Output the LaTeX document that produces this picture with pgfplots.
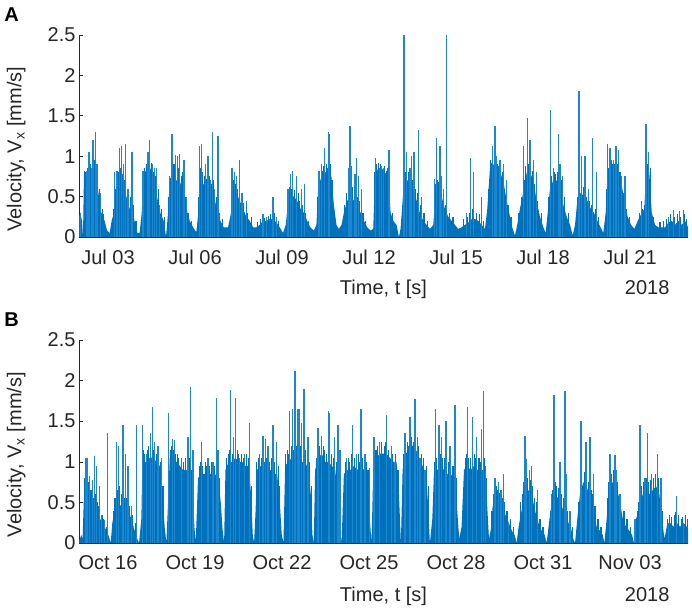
\documentclass[border=0pt]{standalone}
\usepackage{pgfplots}
\pgfplotsset{compat=1.18}
\usepackage{pgfplotstable}
\usepackage{fontspec}
\setmainfont{Liberation Sans}
\definecolor{mblue}{HTML}{0072BD}
\definecolor{sblue}{HTML}{1C86CE}
\definecolor{axgray}{HTML}{262626}
\newcommand\fs{\fontsize{20bp}{24bp}\selectfont}

\pgfplotstableread[row sep=\\]{h v\\
0 0.25\\ 1.1 0.3\\ 2.5 0.2\\ 3.3 0.0\\ 4.1 0.75\\ 6.1 0.78\\ 8.8 0.8\\ 11.6 0.8\\ 14.3 0.75\\ 16.5 0.5\\ 18.5 0.3\\ 21.2 0.2\\ 23.2 0.08\\
25.4 0.05\\ 27.0 0.2\\ 29.0 0.3\\ 30.9 0.55\\ 33.7 0.75\\ 36.4 0.65\\ 39.2 0.5\\ 41.9 0.35\\ 44.7 0.3\\ 46.6 0.15\\ 48.3 0.05\\
50.2 0.05\\ 51.9 0.3\\ 53.5 0.8\\ 56.3 0.82\\ 59.1 0.85\\ 61.8 0.7\\ 64.6 0.5\\ 67.3 0.3\\ 70.1 0.2\\ 72.0 0.0\\
73.7 0.3\\ 75.1 0.72\\ 77.8 0.75\\ 80.6 0.7\\ 83.3 0.7\\ 86.1 0.55\\ 88.9 0.35\\ 91.6 0.2\\ 94.4 0.12\\ 97.1 0.06\\
98.8 0.3\\ 100.5 0.7\\ 103.2 0.65\\ 106.0 0.6\\ 108.7 0.55\\ 111.5 0.5\\ 114.3 0.35\\ 117.0 0.2\\ 119.8 0.12\\ 123.4 0.12\\
125.8 0.3\\ 127.5 0.6\\ 130.3 0.55\\ 133.0 0.45\\ 135.8 0.35\\ 138.5 0.25\\ 141.3 0.2\\ 144.1 0.12\\
146.8 0.12\\ 149.6 0.15\\ 152.3 0.2\\ 155.1 0.2\\ 157.9 0.22\\ 160.6 0.22\\ 163.4 0.18\\ 166.1 0.12\\ 168.9 0.05\\
171.1 0.15\\ 172.8 0.4\\ 175.0 0.55\\ 177.7 0.5\\ 180.5 0.45\\ 183.3 0.35\\ 186.0 0.3\\ 188.8 0.2\\ 191.5 0.12\\ 194.3 0.08\\
196.5 0.15\\ 197.9 0.6\\ 200.6 0.75\\ 203.4 0.8\\ 206.2 0.8\\ 208.9 0.75\\ 210.9 0.4\\ 213.1 0.15\\ 215.0 0.1\\
217.3 0.15\\ 219.2 0.3\\ 222.0 0.45\\ 224.7 0.5\\ 227.5 0.45\\ 230.3 0.4\\ 233.0 0.3\\ 235.8 0.2\\ 238.5 0.12\\ 241.3 0.08\\
243.5 0.1\\ 244.9 0.75\\ 247.6 0.85\\ 250.4 0.85\\ 253.2 0.8\\ 255.9 0.75\\ 257.9 0.3\\ 260.1 0.2\\ 262.8 0.15\\ 264.8 0.0\\
266.1 0.1\\ 268.3 0.55\\ 271.1 0.7\\ 273.9 0.7\\ 276.6 0.6\\ 279.4 0.45\\ 282.1 0.3\\ 284.9 0.2\\ 287.7 0.15\\ 290.4 0.1\\
293.2 0.15\\ 294.6 0.45\\ 297.3 0.6\\ 300.1 0.5\\ 302.8 0.35\\ 305.6 0.25\\ 308.4 0.2\\ 311.1 0.15\\ 313.9 0.1\\
316.6 0.12\\ 319.4 0.15\\ 322.2 0.18\\ 324.9 0.22\\ 327.7 0.22\\ 330.5 0.2\\ 333.2 0.15\\ 336.0 0.1\\
337.9 0.35\\ 340.1 0.85\\ 342.9 0.9\\ 345.6 0.85\\ 348.4 0.8\\ 351.1 0.7\\ 353.9 0.45\\ 356.7 0.25\\ 358.9 0.1\\ 360.8 0.02\\
362.7 0.15\\ 364.9 0.35\\ 367.7 0.55\\ 370.5 0.8\\ 373.2 0.8\\ 376.0 0.7\\ 378.7 0.45\\ 381.5 0.25\\ 384.3 0.12\\ 386.2 0.05\\
387.9 0.3\\ 389.8 0.6\\ 392.5 0.7\\ 395.3 0.7\\ 398.1 0.65\\ 400.8 0.4\\ 403.6 0.25\\ 406.4 0.15\\ 408.6 0.02\\
410.5 0.15\\ 412.4 0.45\\ 415.2 0.55\\ 417.9 0.5\\ 420.7 0.45\\ 423.5 0.35\\ 426.2 0.3\\ 429.0 0.2\\ 431.7 0.12\\ 433.9 0.05\\
435.9 0.3\\ 437.5 0.75\\ 440.3 0.85\\ 443.1 0.8\\ 445.8 0.8\\ 448.6 0.7\\ 451.3 0.45\\ 454.1 0.25\\ 456.9 0.15\\ 459.6 0.1\\
462.4 0.2\\ 465.1 0.28\\ 467.9 0.35\\ 469.3 0.85\\ 472.0 0.8\\ 474.0 0.3\\ 476.7 0.15\\ 479.5 0.12\\ 482.2 0.12\\
485.0 0.12\\ 487.8 0.18\\ 490.5 0.2\\ 493.3 0.15\\ 496.1 0.2\\ 498.8 0.15\\ 501.6 0.2\\ 504.0 0.12\\
}\envA

\pgfplotstableread[row sep=\\]{h v\\
4.8 0.82\\ 5.5 0.8\\ 7.2 0.85\\ 9.5 0.9\\ 10.8 0.82\\ 12.4 0.95\\ 15.5 0.7\\ 16.8 0.6\\ 19.5 0.35\\ 20.5 0.28\\
28.2 0.35\\ 30.2 0.6\\ 32.5 0.8\\ 34.4 0.85\\ 36.0 0.78\\ 37.5 0.7\\ 39.8 0.6\\ 42.5 0.5\\ 45.2 0.4\\ 47.2 0.2\\
52.6 0.5\\ 54.5 0.85\\ 55.5 0.9\\ 56.8 0.88\\ 60.0 0.92\\ 61.2 0.8\\ 63.3 0.75\\ 65.5 0.6\\ 68.0 0.35\\ 70.8 0.25\\
74.3 0.5\\ 76.2 0.8\\ 78.6 0.9\\ 80.2 0.8\\ 82.3 0.85\\ 84.5 0.75\\ 85.6 0.8\\ 87.8 0.5\\ 90.2 0.3\\ 92.8 0.2\\
99.3 0.5\\ 100.8 0.85\\ 102.5 0.8\\ 104.0 0.75\\ 105.8 0.72\\ 108.0 0.75\\ 109.8 0.65\\ 111.2 0.7\\ 113.5 0.5\\ 116.0 0.3\\ 118.5 0.22\\
126.2 0.5\\ 127.8 0.7\\ 129.6 0.65\\ 131.5 0.6\\ 134.2 0.5\\ 136.5 0.42\\ 139.8 0.3\\ 142.5 0.25\\
148.0 0.18\\ 150.5 0.22\\ 153.8 0.24\\ 156.5 0.26\\ 158.8 0.28\\ 162.0 0.3\\ 165.0 0.2\\
172.3 0.45\\ 174.0 0.62\\ 176.0 0.6\\ 178.6 0.58\\ 181.5 0.55\\ 182.8 0.45\\ 185.2 0.4\\ 187.8 0.3\\ 190.2 0.2\\
197.5 0.5\\ 199.2 0.75\\ 201.5 0.82\\ 202.5 0.88\\ 204.8 0.9\\ 205.5 0.85\\ 208.0 0.9\\ 209.6 0.7\\ 211.8 0.3\\
219.8 0.4\\ 221.5 0.55\\ 223.5 0.6\\ 226.5 0.62\\ 228.9 0.55\\ 230.8 0.5\\ 232.5 0.45\\ 235.0 0.3\\ 237.2 0.2\\
245.0 0.8\\ 246.5 0.9\\ 247.8 0.92\\ 249.2 0.9\\ 252.5 0.88\\ 254.5 0.82\\ 255.2 0.85\\ 257.2 0.5\\ 259.5 0.3\\
267.5 0.4\\ 269.5 0.75\\ 270.4 0.8\\ 272.8 0.8\\ 274.5 0.75\\ 276.0 0.7\\ 278.5 0.6\\ 280.0 0.55\\ 282.8 0.4\\ 285.5 0.3\\ 288.5 0.2\\
295.2 0.65\\ 296.5 0.7\\ 297.8 0.68\\ 299.2 0.65\\ 302.0 0.45\\ 303.5 0.4\\ 306.5 0.3\\ 309.5 0.25\\
318.0 0.22\\ 321.5 0.25\\ 323.0 0.3\\ 325.5 0.35\\ 328.8 0.3\\ 331.5 0.28\\ 334.5 0.2\\
339.0 0.6\\ 340.8 0.95\\ 341.5 0.92\\ 343.5 1.0\\ 346.2 0.9\\ 347.5 0.88\\ 349.0 0.85\\ 350.2 0.8\\ 352.5 0.6\\ 355.0 0.4\\ 357.5 0.25\\
364.0 0.3\\ 366.0 0.5\\ 368.5 0.7\\ 369.8 0.88\\ 372.0 0.9\\ 374.0 0.85\\ 375.2 0.82\\ 377.2 0.65\\ 379.8 0.45\\ 382.5 0.3\\
388.8 0.5\\ 391.0 0.75\\ 393.5 0.8\\ 394.6 0.78\\ 396.0 0.8\\ 397.5 0.75\\ 399.2 0.7\\ 401.5 0.5\\ 404.8 0.3\\
412.8 0.5\\ 414.5 0.65\\ 415.5 0.6\\ 417.2 0.62\\ 419.5 0.55\\ 420.2 0.5\\ 422.2 0.45\\ 424.2 0.4\\ 427.2 0.35\\ 429.8 0.25\\
436.5 0.6\\ 438.5 0.85\\ 440.8 0.95\\ 441.5 0.9\\ 443.6 0.9\\ 445.2 0.9\\ 447.2 0.8\\ 448.0 0.8\\ 450.2 0.55\\ 453.0 0.35\\ 455.5 0.25\\
463.5 0.3\\ 466.5 0.35\\ 468.4 0.4\\ 469.9 0.95\\ 470.5 0.9\\ 472.6 0.85\\ 473.3 0.5\\ 475.5 0.25\\
480.8 0.18\\ 483.5 0.2\\ 486.2 0.22\\ 489.2 0.28\\ 492.8 0.25\\ 495.0 0.28\\ 498.0 0.25\\ 500.8 0.28\\ 503.0 0.22\\
}\midA

\pgfplotstableread[row sep=\\]{h v\\
1.1 0.3\\ 6.6 0.82\\ 8.3 1.05\\ 10.2 0.85\\ 11.6 1.2\\ 13.5 1.3\\ 14.9 0.9\\ 17.9 0.55\\
29.5 0.8\\ 31.5 0.82\\ 33.7 1.1\\ 35.0 1.12\\ 36.7 0.9\\ 38.4 1.15\\ 40.6 0.6\\ 43.9 1.05\\
53.0 0.82\\ 57.1 1.05\\ 58.5 1.2\\ 60.7 0.9\\ 62.6 0.85\\ 64.0 0.85\\ 66.8 0.4\\
75.1 0.75\\ 77.0 1.27\\ 79.8 1.02\\ 81.4 1.0\\ 83.3 1.03\\ 86.9 0.95\\ 88.9 0.5\\
99.9 1.13\\ 101.3 1.15\\ 104.9 0.9\\ 106.8 1.0\\ 109.0 0.7\\ 110.4 1.3\\ 112.3 0.6\\ 115.1 1.25\\
126.7 0.85\\ 128.9 0.8\\ 130.3 0.75\\ 133.0 0.95\\ 135.0 0.55\\ 138.5 0.45\\
152.3 0.28\\ 155.1 0.25\\ 160.6 0.5\\ 163.4 0.25\\
173.0 0.6\\ 175.0 0.78\\ 176.4 0.82\\ 180.0 0.75\\ 184.1 0.6\\ 186.8 0.65\\
198.7 0.82\\ 200.6 0.9\\ 203.4 1.1\\ 206.2 1.3\\ 207.5 1.28\\
222.8 0.85\\ 224.2 1.37\\ 225.6 0.88\\ 228.3 0.78\\ 229.7 0.98\\ 231.1 0.75\\ 233.8 0.6\\
245.4 0.98\\ 248.5 0.85\\ 250.4 0.88\\ 251.8 0.85\\ 256.5 1.08\\
268.9 2.5\\ 271.1 1.05\\ 273.9 0.85\\ 275.2 1.0\\ 277.2 1.05\\ 280.8 1.33\\ 283.5 0.5\\
294.0 0.72\\ 295.9 1.23\\ 298.7 1.13\\ 300.1 0.75\\ 301.5 0.6\\ 304.2 2.5\\
320.8 0.3\\ 324.1 0.98\\ 326.3 0.8\\ 333.2 0.5\\
342.3 1.12\\ 344.2 1.37\\ 345.6 1.0\\ 348.4 0.95\\ 351.1 0.9\\ 353.9 0.7\\
367.7 1.12\\ 371.3 1.47\\ 373.2 1.2\\ 376.0 0.95\\ 378.7 0.8\\
390.3 1.57\\ 392.5 0.85\\ 396.7 1.27\\ 398.1 0.9\\ 400.3 0.75\\
413.8 1.81\\ 416.0 1.0\\ 418.8 1.0\\ 421.5 0.6\\ 425.1 1.23\\ 428.4 0.8\\
437.5 1.15\\ 439.5 1.1\\ 442.2 0.95\\ 444.4 1.12\\ 446.4 1.08\\ 449.1 0.75\\ 451.9 0.75\\
465.7 0.45\\ 469.3 1.4\\ 471.2 1.05\\
487.8 0.25\\ 491.9 0.33\\ 496.9 0.32\\ 500.2 0.33\\
}\spkA

\pgfplotstableread[row sep=\\]{h v\\
0 0.02\\ 1.9 0.1\\ 3.0 0.05\\ 3.9 0.5\\ 5.5 0.6\\ 7.4 0.55\\ 9.4 0.5\\ 11.6 0.4\\ 14.3 0.35\\ 17.1 0.3\\ 19.9 0.25\\ 22.6 0.15\\ 24.8 0.08\\ 26.2 0.0\\
27.6 0.25\\ 29.5 0.4\\ 32.3 0.5\\ 35.0 0.45\\ 37.8 0.4\\ 40.6 0.4\\ 43.3 0.3\\ 46.1 0.15\\ 48.3 0.05\\ 49.7 0.0\\
51.6 0.3\\ 52.4 1.0\\ 55.7 1.0\\ 58.5 1.05\\ 61.3 1.05\\ 64.0 1.0\\ 66.8 0.95\\ 69.0 0.6\\ 70.9 0.2\\ 72.3 0.0\\
73.7 0.5\\ 75.1 1.05\\ 77.8 1.05\\ 80.6 1.0\\ 83.3 0.95\\ 86.1 0.9\\ 88.9 0.9\\ 91.6 0.85\\ 93.8 0.7\\ 95.5 0.2\\ 96.6 0.0\\
98.5 0.8\\ 101.3 0.85\\ 104.0 0.85\\ 106.8 0.85\\ 109.6 0.85\\ 112.3 0.85\\ 115.1 0.8\\ 117.3 0.5\\ 118.9 0.15\\ 120.1 0.0\\
121.2 0.9\\ 123.9 1.0\\ 126.7 1.0\\ 129.4 1.05\\ 132.2 1.0\\ 135.0 1.0\\ 137.7 0.95\\ 140.5 0.95\\ 142.4 0.6\\ 143.8 0.1\\ 144.9 0.0\\
146.0 0.35\\ 147.4 0.9\\ 150.1 0.95\\ 152.9 0.9\\ 155.7 0.85\\ 158.4 0.9\\ 161.2 0.85\\ 164.0 0.85\\ 166.2 0.5\\ 167.8 0.1\\ 169.2 0.0\\
170.6 0.95\\ 173.3 1.0\\ 176.1 1.05\\ 178.8 1.0\\ 181.6 1.05\\ 184.4 1.0\\ 187.1 1.0\\ 189.9 0.9\\ 191.8 0.6\\ 193.2 0.1\\ 194.3 0.0\\
195.4 0.9\\ 198.2 1.05\\ 200.9 1.1\\ 203.7 1.0\\ 206.5 1.0\\ 209.2 0.95\\ 212.0 0.9\\ 214.2 0.6\\ 215.8 0.2\\ 217.3 0.0\\
219.2 0.85\\ 222.0 0.9\\ 224.7 0.9\\ 227.5 0.95\\ 230.3 0.9\\ 233.0 0.95\\ 235.8 0.9\\ 238.5 0.85\\ 240.2 0.4\\ 242.1 0.0\\
243.5 0.9\\ 246.3 1.05\\ 249.0 1.1\\ 251.8 1.1\\ 254.5 1.1\\ 257.3 1.05\\ 260.1 1.0\\ 262.8 1.0\\ 264.8 0.6\\ 266.4 0.0\\
267.8 0.9\\ 270.5 1.1\\ 273.3 1.15\\ 276.1 1.2\\ 278.8 1.15\\ 281.6 1.05\\ 284.3 0.95\\ 287.1 0.85\\ 288.8 0.5\\ 290.4 0.0\\
292.4 0.3\\ 293.7 0.85\\ 296.5 0.9\\ 299.3 0.95\\ 302.0 0.9\\ 304.8 0.85\\ 307.5 0.85\\ 310.3 0.8\\ 312.5 0.5\\ 314.7 0.05\\
316.6 0.2\\ 318.6 0.9\\ 321.3 0.95\\ 324.1 0.9\\ 326.9 0.95\\ 329.6 0.9\\ 332.4 0.9\\ 335.1 0.9\\ 337.3 0.6\\ 339.3 0.05\\
340.7 0.15\\ 342.3 0.45\\ 344.5 0.55\\ 347.3 0.55\\ 350.0 0.45\\ 352.8 0.35\\ 355.6 0.25\\ 358.3 0.15\\ 360.5 0.1\\ 362.2 0.0\\
363.8 0.2\\ 366.3 0.4\\ 369.1 0.6\\ 371.8 0.65\\ 374.6 0.6\\ 377.4 0.4\\ 380.1 0.25\\ 382.9 0.15\\ 385.4 0.1\\ 387.0 0.0\\
389.0 0.25\\ 391.2 0.5\\ 393.9 0.6\\ 396.7 0.55\\ 399.5 0.45\\ 402.2 0.35\\ 405.0 0.25\\ 407.7 0.15\\ 409.1 0.05\\ 410.5 0.0\\
412.4 0.3\\ 414.6 0.6\\ 417.4 0.75\\ 420.1 0.7\\ 422.9 0.55\\ 425.7 0.4\\ 428.4 0.2\\ 431.2 0.15\\ 433.4 0.1\\ 434.8 0.0\\
436.7 0.3\\ 438.9 0.65\\ 441.7 0.75\\ 444.4 0.7\\ 447.2 0.55\\ 450.0 0.3\\ 452.7 0.2\\ 455.5 0.15\\ 457.7 0.1\\ 459.3 0.0\\
461.0 0.3\\ 463.8 0.4\\ 466.5 0.6\\ 469.3 0.65\\ 472.0 0.6\\ 474.8 0.65\\ 477.6 0.7\\ 480.3 0.6\\ 482.5 0.3\\ 484.5 0.05\\
486.4 0.2\\ 489.1 0.25\\ 491.9 0.2\\ 494.7 0.25\\ 497.4 0.2\\ 500.2 0.25\\ 502.9 0.2\\ 504.0 0.15\\
}\envB

\pgfplotstableread[row sep=\\]{h v\\
4.3 0.8\\ 5.9 0.85\\ 7.8 0.75\\ 9.9 0.65\\ 12.0 0.55\\ 13.6 0.6\\ 15.5 0.5\\ 16.5 0.45\\ 19.2 0.35\\ 20.5 0.3\\ 23.0 0.2\\
28.2 0.4\\ 29.8 0.55\\ 31.8 0.65\\ 33.8 0.7\\ 35.5 0.6\\ 37.2 0.55\\ 39.5 0.55\\ 41.8 0.45\\ 44.5 0.35\\ 46.8 0.25\\
53.2 1.15\\ 54.2 1.1\\ 56.5 1.15\\ 57.8 1.2\\ 62.0 1.15\\ 63.8 1.1\\ 64.8 1.05\\ 66.0 1.1\\ 67.2 1.0\\ 69.5 0.7\\
75.8 1.15\\ 76.5 1.2\\ 78.5 1.15\\ 80.0 1.1\\ 81.5 1.1\\ 82.5 1.05\\ 86.5 1.0\\ 88.0 1.05\\ 89.5 1.0\\ 91.0 1.05\\ 93.2 0.9\\
99.5 0.95\\ 100.2 1.0\\ 102.5 0.95\\ 104.5 1.0\\ 105.5 0.95\\ 108.0 0.95\\ 109.8 1.0\\ 112.2 0.95\\ 114.5 0.95\\ 116.2 0.8\\
122.0 1.05\\ 123.5 1.1\\ 124.5 1.15\\ 127.0 1.1\\ 131.0 1.15\\ 132.2 1.1\\ 134.5 1.1\\ 136.0 1.05\\ 138.8 1.1\\ 140.0 1.05\\ 142.8 0.7\\
147.0 1.0\\ 148.2 1.05\\ 151.2 1.05\\ 153.8 1.0\\ 155.5 1.05\\ 158.0 1.0\\ 159.5 1.05\\ 162.0 1.0\\ 164.8 0.95\\ 166.0 0.7\\
171.2 1.1\\ 172.5 1.15\\ 173.8 1.1\\ 175.5 1.2\\ 177.5 1.15\\ 180.0 1.2\\ 183.5 1.2\\ 185.5 1.1\\ 187.8 1.15\\ 188.8 1.1\\ 190.8 1.0\\ 192.2 0.7\\
196.2 1.05\\ 197.2 1.1\\ 199.2 1.2\\ 202.0 1.2\\ 203.0 1.15\\ 205.0 1.1\\ 208.8 1.1\\ 210.5 1.05\\ 213.2 1.0\\ 214.9 0.7\\
220.2 1.0\\ 223.0 1.05\\ 224.2 1.0\\ 225.5 1.1\\ 228.0 1.05\\ 231.5 1.1\\ 232.2 1.0\\ 234.8 1.05\\ 237.5 1.0\\ 239.2 0.9\\
244.8 1.1\\ 245.8 1.15\\ 247.2 1.2\\ 250.0 1.25\\ 252.5 1.2\\ 253.5 1.25\\ 256.2 1.15\\ 259.5 1.1\\ 262.0 1.1\\ 264.0 0.9\\
268.5 1.1\\ 271.5 1.25\\ 272.5 1.2\\ 275.5 1.3\\ 277.2 1.25\\ 280.8 1.2\\ 283.5 1.1\\ 285.0 1.05\\ 287.8 0.95\\ 289.2 0.7\\
294.2 1.0\\ 296.0 1.05\\ 298.8 1.1\\ 301.0 1.05\\ 302.5 1.05\\ 305.5 1.0\\ 306.2 1.0\\ 308.8 0.95\\ 310.0 0.95\\ 312.0 0.8\\
319.5 1.05\\ 320.5 1.1\\ 322.5 1.05\\ 324.0 1.05\\ 327.5 1.1\\ 328.2 1.05\\ 331.0 1.05\\ 332.5 1.0\\ 335.5 1.05\\ 337.0 0.8\\
341.5 0.4\\ 343.0 0.6\\ 345.2 0.7\\ 346.2 0.65\\ 348.0 0.62\\ 350.2 0.55\\ 352.0 0.5\\ 354.2 0.4\\ 357.0 0.3\\ 359.5 0.2\\
365.2 0.5\\ 367.0 0.6\\ 368.2 0.75\\ 371.0 0.8\\ 373.5 0.78\\ 375.5 0.7\\ 377.0 0.55\\ 378.5 0.5\\ 381.5 0.3\\ 384.0 0.2\\
390.2 0.4\\ 392.2 0.65\\ 394.5 0.75\\ 395.5 0.7\\ 397.2 0.68\\ 399.0 0.6\\ 400.8 0.55\\ 404.5 0.4\\ 406.8 0.3\\ 408.5 0.2\\
413.5 0.5\\ 414.8 0.7\\ 416.2 0.85\\ 418.2 0.88\\ 419.0 0.85\\ 421.5 0.75\\ 423.8 0.65\\ 424.8 0.6\\ 427.0 0.45\\ 429.5 0.3\\ 432.0 0.2\\
437.8 0.55\\ 438.5 0.75\\ 440.5 0.85\\ 442.5 0.9\\ 444.0 0.85\\ 446.0 0.75\\ 448.5 0.5\\ 451.0 0.4\\ 453.5 0.3\\ 456.5 0.2\\
462.5 0.4\\ 463.0 0.5\\ 465.2 0.7\\ 467.2 0.75\\ 469.8 0.8\\ 471.5 0.75\\ 473.0 0.78\\ 475.5 0.8\\ 476.8 0.85\\ 479.5 0.8\\ 481.0 0.7\\ 483.2 0.4\\
487.0 0.3\\ 488.5 0.35\\ 490.5 0.32\\ 492.5 0.35\\ 493.8 0.38\\ 496.5 0.35\\ 498.5 0.3\\ 499.5 0.32\\ 501.8 0.35\\ 503.5 0.3\\
}\midB

\pgfplotstableread[row sep=\\]{h v\\
5.2 1.05\\ 6.6 1.05\\ 8.8 0.82\\ 11.0 0.78\\ 13.0 1.07\\ 14.3 0.95\\ 17.1 0.7\\ 18.5 0.35\\ 21.2 0.28\\
23.5 1.35\\ 30.9 1.25\\ 32.8 1.2\\ 36.4 1.45\\ 38.4 1.1\\ 40.6 0.95\\ 43.3 0.45\\ 47.5 1.45\\
52.4 1.45\\ 55.7 1.1\\ 59.3 1.35\\ 60.7 1.68\\ 62.6 1.25\\ 65.4 1.2\\ 68.2 1.05\\
74.2 1.6\\ 77.3 1.28\\ 79.2 1.27\\ 84.7 1.05\\ 90.2 1.3\\ 92.2 1.92\\ 94.4 1.15\\
101.3 1.25\\ 106.8 1.05\\ 111.0 1.0\\ 113.7 1.78\\ 115.1 1.15\\
125.3 1.88\\ 128.1 1.3\\ 129.4 1.79\\ 133.0 1.05\\ 137.2 1.1\\ 141.3 1.48\\
149.6 1.1\\ 152.3 1.32\\ 154.5 1.28\\ 156.5 1.2\\ 160.6 1.45\\ 163.4 1.25\\
174.4 1.62\\ 176.4 1.65\\ 178.8 2.12\\ 181.3 1.65\\ 182.7 1.65\\ 184.4 1.48\\ 186.3 1.9\\ 189.6 1.3\\
197.9 1.42\\ 200.6 1.32\\ 206.2 1.62\\ 207.5 1.6\\ 211.7 1.3\\ 214.4 1.45\\
215.9 1.15\\ 221.4 1.05\\ 226.4 1.45\\ 229.7 1.1\\ 233.3 1.65\\ 236.6 1.1\\ 240.2 0.92\\
244.1 1.3\\ 248.5 1.25\\ 254.5 1.58\\ 258.7 1.2\\ 261.4 1.0\\
269.7 1.35\\ 273.9 1.55\\ 278.0 1.77\\ 279.9 1.3\\ 282.1 1.05\\ 286.3 0.9\\
295.1 1.65\\ 297.9 1.45\\ 300.1 1.3\\ 303.7 1.5\\ 307.0 1.2\\ 311.1 1.7\\
321.6 1.67\\ 325.5 1.55\\ 329.1 1.3\\ 333.2 1.4\\ 334.6 1.87\\ 336.5 0.95\\
344.2 0.8\\ 347.0 0.75\\ 349.2 0.65\\ 351.1 0.85\\ 355.3 0.25\\
369.1 1.32\\ 370.5 1.03\\ 372.7 0.9\\ 374.6 0.95\\ 379.6 0.65\\
391.2 0.6\\ 393.1 1.82\\ 398.1 1.0\\ 402.2 1.87\\ 403.6 0.85\\ 406.3 0.4\\
415.5 1.5\\ 419.6 1.25\\ 422.9 1.3\\ 425.7 0.85\\
439.5 1.1\\ 443.6 1.08\\ 445.0 0.9\\ 447.7 0.6\\
460.2 0.3\\ 464.3 1.45\\ 468.4 0.8\\ 470.6 1.35\\ 474.0 0.85\\ 478.9 1.1\\ 481.7 0.8\\
487.8 0.25\\ 494.7 0.58\\ 500.2 0.25\\
}\spkB

\pgfplotsset{
  panel/.style={
    anchor=south west, scale only axis, width=609bp,
    xmin=0, xmax=504, ymin=0, ymax=2.5, clip=false,
    axis lines*=left,
    axis line style={color=axgray, line width=0.6bp},
    tick align=inside, major tick length=4bp,
    tick style={color=axgray, line width=0.6bp},
    ytick={0,0.5,1,1.5,2,2.5}, yticklabels={0,0.5,1,1.5,2,2.5},
    xtick={24,96,168,240,312,384,456},
    ticklabel style={font=\fs, text=axgray},
    xticklabel style={yshift=-9bp},
    ylabel={Velocity, V\textsubscript{x} [mm/s]},
    ylabel style={font=\fs, text=axgray, at={(axis description cs:-0.103,0.435)}, anchor=center},
    xlabel={Time, t [s]},
    xlabel style={font=\fs, text=axgray, at={(axis description cs:0.5,-0.287)}, anchor=base},
  }
}

\begin{document}
\begin{tikzpicture}
\useasboundingbox (0,0) rectangle (692bp,610bp);
\node[font=\bfseries\fontsize{20bp}{22bp}\selectfont, text=black, anchor=center] at (11.5bp,595.5bp) {A};
\node[font=\bfseries\fontsize{20bp}{22bp}\selectfont, text=black, anchor=center] at (11.5bp,290bp) {B};
\begin{axis}[panel, at={(79bp,373bp)}, height=202bp,
  xticklabels={Jul 03,Jul 06,Jul 09,Jul 12,Jul 15,Jul 18,Jul 21}]
\addplot[fill=mblue, draw=none] table[x=h,y=v] {\envA} \closedcycle;
\addplot[ycomb, draw=mblue, line width=1.1bp, mark=none] table[x=h,y=v] {\midA};
\addplot[ycomb, draw=sblue, line width=1.3bp, mark=none] table[x=h,y=v] {\spkA};
\node[font=\fs, text=axgray, anchor=base] at (axis description cs:0.933,-0.287) {2018};
\end{axis}
\begin{axis}[panel, at={(79bp,67bp)}, height=203bp,
  xticklabels={Oct 16,Oct 19,Oct 22,Oct 25,Oct 28,Oct 31,Nov 03}]
\addplot[fill=mblue, draw=none] table[x=h,y=v] {\envB} \closedcycle;
\addplot[ycomb, draw=mblue, line width=1.1bp, mark=none] table[x=h,y=v] {\midB};
\addplot[ycomb, draw=sblue, line width=1.3bp, mark=none] table[x=h,y=v] {\spkB};
\node[font=\fs, text=axgray, anchor=base] at (axis description cs:0.933,-0.287) {2018};
\end{axis}
\end{tikzpicture}
\end{document}
